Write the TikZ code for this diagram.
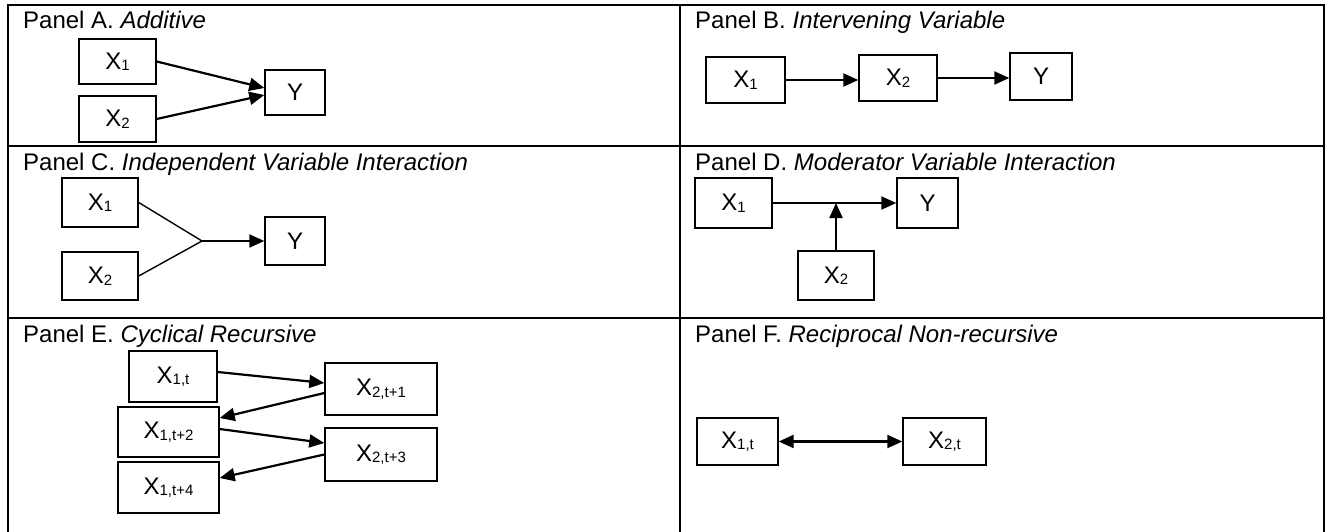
\documentclass[tikz,border=0pt]{standalone}
\usepackage{fontspec}
\setmainfont{Liberation Sans}
\usetikzlibrary{arrows.meta}
\newcommand{\sbs}[1]{\raisebox{-1.5pt}{\fontsize{15}{15}\selectfont #1}}

\begin{document}
\begin{tikzpicture}[x=1pt, y=-1pt, >={Triangle[length=15pt,width=13pt]},
                    every node/.style = {font=\fontsize{24}{28}\selectfont},
                    title/.style = {anchor=base west, inner sep=0pt},
                    var/.style = {draw, line width=1.4pt, inner sep=0pt},
                    link/.style = {->, line width=2.2pt},
                    frame/.style = {line width=2.6pt}]
\useasboundingbox (0,0) rectangle (1327,532);
% table
\draw[frame] (8,532) -- (8,5) -- (1324,5) -- (1324,532);
\draw[frame] (680,5) -- (680,532);
\draw[frame] (8,146) -- (1324,146);
\draw[frame] (8,318) -- (1324,318);
\node[title] (tA) at (23,29) {Panel A. \textit{Additive}};
\node[title] (tB) at (695,29) {Panel B. \textit{Intervening Variable}};
\node[title] (tC) at (23,170) {Panel C. \textit{Independent Variable Interaction}};
\node[title] (tD) at (695,170) {Panel D. \textit{Moderator Variable Interaction}};
\node[title] (tE) at (23,342) {Panel E. \textit{Cyclical Recursive}};
\node[title] (tF) at (695,342) {Panel F. \textit{Reciprocal Non-recursive}};
% panel A
\node[var, minimum width=77pt, minimum height=45pt] (ax1) at (117.5,61.5) {X\sbs{1}};
\node[var, minimum width=77pt, minimum height=46pt] (ax2) at (117.5,119) {X\sbs{2}};
\node[var, minimum width=60pt, minimum height=45pt] (ay) at (295,92.5) {Y};
\draw[link] (ax1.east) -- ([yshift=4.5pt]ay.west);
\draw[link] (ax2.east) -- ([yshift=-2.5pt]ay.west);
% panel B
\node[var, minimum width=79pt, minimum height=46pt] (bx1) at (745.5,80) {X\sbs{1}};
\node[var, minimum width=78pt, minimum height=46pt] (bx2) at (898,78) {X\sbs{2}};
\node[var, minimum width=62pt, minimum height=47pt] (by) at (1041,76.5) {Y};
\draw[link] (bx1.east) -- (bx1.east -| bx2.west);
\draw[link] (bx2.east) -- (bx2.east -| by.west);
% panel C
\node[var, minimum width=76pt, minimum height=49pt] (cx1) at (100,202.5) {X\sbs{1}};
\node[var, minimum width=76pt, minimum height=48pt] (cx2) at (100,276) {X\sbs{2}};
\node[var, minimum width=60pt, minimum height=48pt] (cy) at (295,241) {Y};
\coordinate (cj) at (202,241);
\draw[line width=1.4pt] (cx1.east) -- (cj) -- (cx2.east);
\draw[link] (cj) -- (cy.west);
% panel D
\node[var, minimum width=77pt, minimum height=50pt] (dx1) at (733.5,203) {X\sbs{1}};
\node[var, minimum width=61pt, minimum height=50pt] (dy) at (927.5,203) {Y};
\node[var, minimum width=76pt, minimum height=49pt] (dx2) at (836,275.5) {X\sbs{2}};
\draw[link] (dx1.east) -- (dy.west);
\draw[link] (dx2.north) -- (dx2.north |- dx1.east);
% panel E
\node[var, minimum width=88pt, minimum height=51pt] (e1) at (173,376.5) {X\sbs{1,t}};
\node[var, minimum width=112pt, minimum height=52pt] (e2) at (381,389) {X\sbs{2,t+1}};
\node[var, minimum width=101pt, minimum height=50pt] (e3) at (168.5,432) {X\sbs{1,t+2}};
\node[var, minimum width=112pt, minimum height=53pt] (e4) at (381,454.5) {X\sbs{2,t+3}};
\node[var, minimum width=101pt, minimum height=51pt] (e5) at (168.5,487.5) {X\sbs{1,t+4}};
\draw[link] ([yshift=4.5pt]e1.east) -- ([yshift=6pt]e2.west);
\draw[link] ([yshift=-4pt]e2.west) -- ([yshift=14pt]e3.east);
\draw[link] ([yshift=3pt]e3.east) -- ([yshift=11.5pt]e4.west);
\draw[link] (e4.west) -- ([yshift=9.5pt]e5.east);
% panel F
\node[var, minimum width=81pt, minimum height=47pt] (f1) at (737.5,441.5) {X\sbs{1,t}};
\node[var, minimum width=83pt, minimum height=47pt] (f2) at (944.5,441.5) {X\sbs{2,t}};
\draw[link, <->] (f1.east) -- (f2.west);
\end{tikzpicture}
\end{document}
